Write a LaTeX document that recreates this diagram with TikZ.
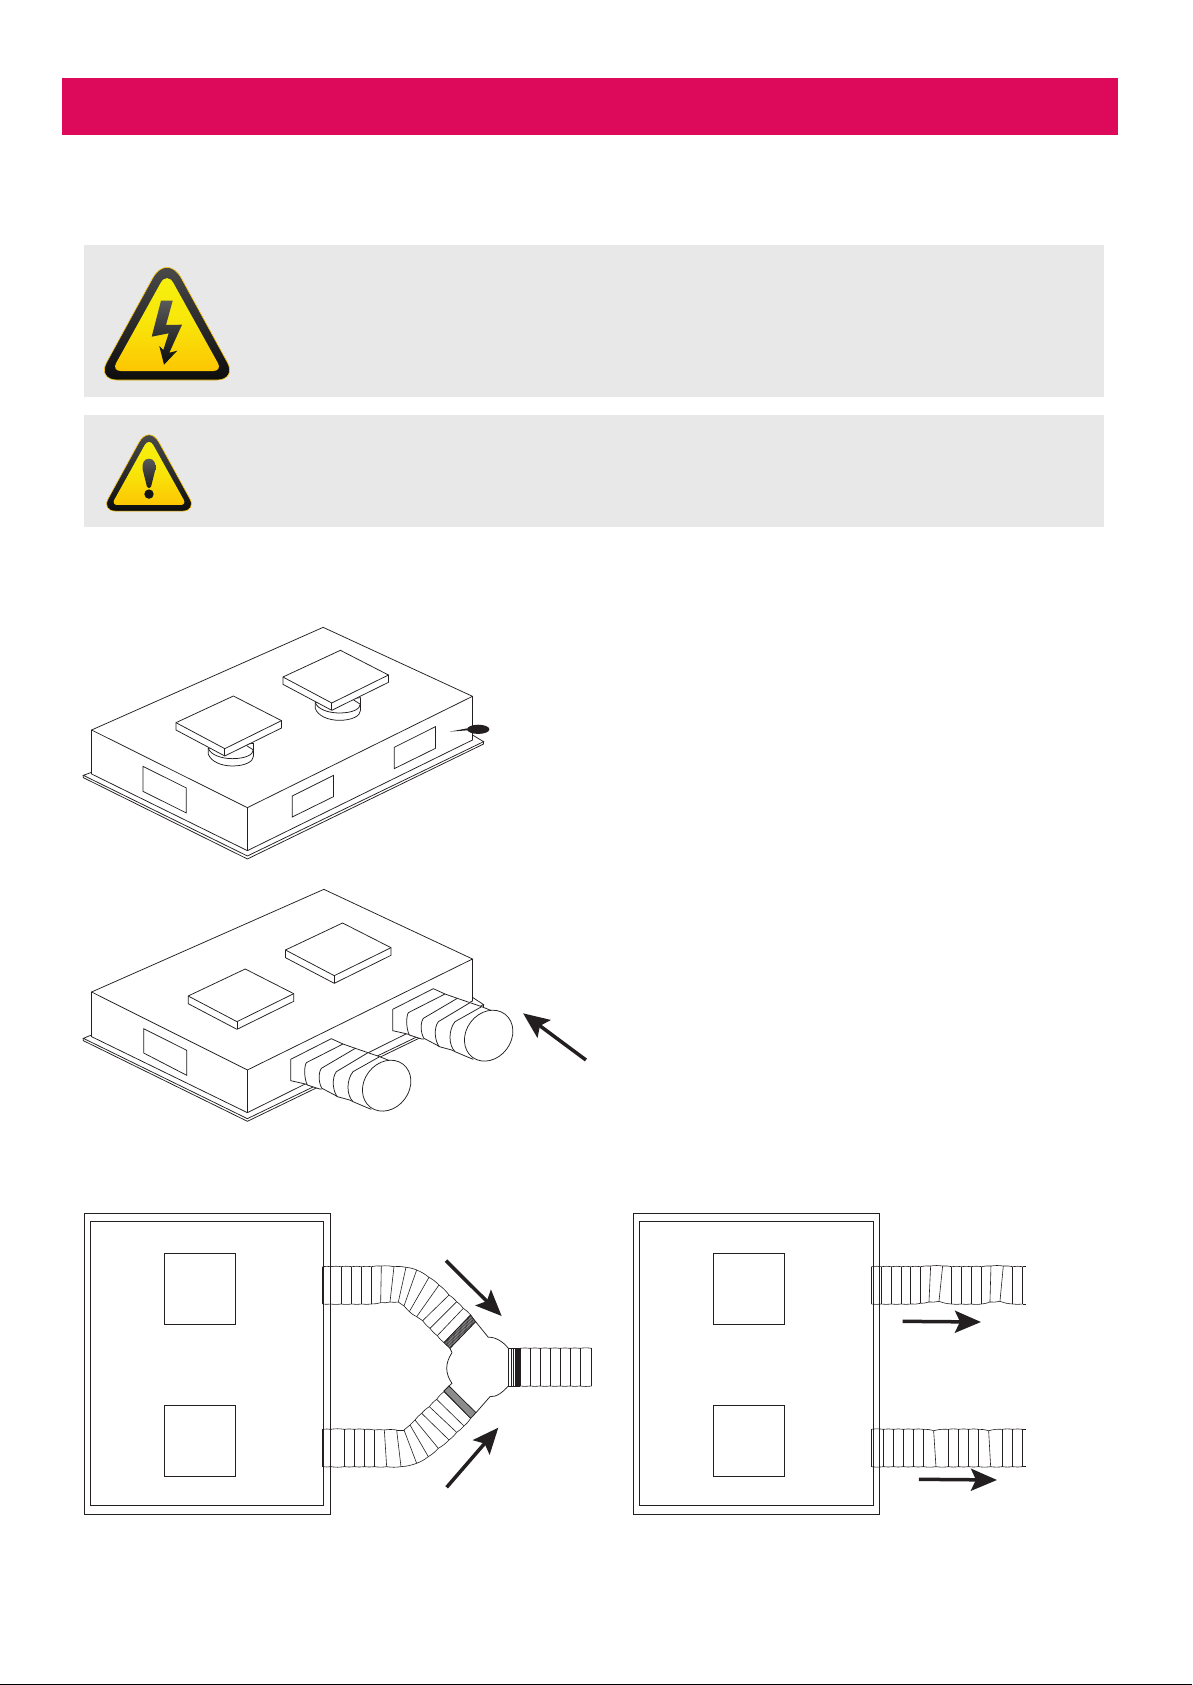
\documentclass[tikz,border=0pt]{standalone}
\usetikzlibrary{arrows.meta,calc}
\definecolor{hdr}{RGB}{221,10,92}
\definecolor{panel}{RGB}{232,232,232}
\definecolor{inka}{RGB}{35,31,32}
\definecolor{ylw}{RGB}{246,242,14}
\definecolor{ylwm}{RGB}{248,230,10}
\definecolor{ylwb}{RGB}{253,198,2}
\tikzset{
  ln/.style={draw=inka,line width=0.75pt,line join=miter},
  rb/.style={draw=inka,line width=0.6pt},
  wh/.style={ln,fill=white},
  flow/.style={draw=inka,line width=3.5pt,-{Stealth[length=26pt,width=22pt,inset=5pt]}},
}
% warning triangle: #1 shift, #2 scale, #3 base corner, #4 apex corner, #5 inner base corner, #6 inner apex corner, #7 symbol
\newcommand\warntri[7]{%
 \begin{scope}[shift={#1},x=#2pt,y=-#2pt]
  \path[shade,top color=black!68,bottom color=black!95,draw=ylwb,line width=.6pt,rounded corners=#3pt]
     (0,130) -- (-70,130) [rounded corners=#4pt] -- (0,2) [rounded corners=#3pt] -- (70,130) -- cycle;
  \path[shade,top color=ylw,bottom color=ylwb,middle color=ylwm,rounded corners=#5pt]
     (0,121) -- (-55.3,121) [rounded corners=#6pt] -- (0,21.5) [rounded corners=#5pt] -- (55.3,121) -- cycle;
  #7
 \end{scope}}
% corrugated hose: ribs given as xtop/ytop/xbottom/ybottom
\newcommand\ribs[1]{%
 \foreach \xt/\yt/\xb/\yb [count=\ci,remember=\xt as \pxt (initially 0),remember=\yt as \pyt (initially 0),remember=\xb as \pxb (initially 0),remember=\yb as \pyb (initially 0)] in {#1}{
   \draw[rb] (\xt,\yt) -- (\xb,\yb);
   \ifnum\ci>1
     \draw[rb] (\pxt,\pyt) to[bend left=8] (\xt,\yt);
     \draw[rb] (\pxb,\pyb) to[bend right=8] (\xb,\yb);
   \fi
 }}
% one collapsed ring of the hose seen in perspective
\newcommand\ring[1]{\fill[white] #1 -- cycle; \draw[ln] #1;}
% hose coming towards the viewer; #1,#2 = shift in reference pixels
\newcommand\isoduct[2]{%
 \begin{scope}[shift={(#1,#2)},x=.3333pt,y=-.3333pt]
  \ring{(195,72) -- (160,56) -- (38,118) -- (38,182) -- (82,192) -- (125,205)}
  \ring{(232,85) -- (195,72) -- (85,128) .. controls (78,140) and (78,175) .. (88,195) -- (125,207) -- (132,207)}
  \ring{(270,98) -- (232,85) -- (130,145) .. controls (120,160) and (122,190) .. (132,205) -- (170,225) -- (178,230)}
  \ring{(305,110) -- (270,98) -- (175,155) .. controls (160,175) and (165,215) .. (178,230) -- (215,240) -- (225,245)}
  \ring{(345,126) -- (305,110) -- (225,155) .. controls (205,180) and (205,225) .. (225,245) -- (265,262) -- (280,268)}
  \coordinate (cap) at (326,197);
  \draw[wh] (cap) ellipse [x radius=27pt,y radius=22.5pt,rotate=53];
 \end{scope}}
\begin{document}
\begin{tikzpicture}[x=1pt,y=-1pt]
\useasboundingbox (0,0) rectangle (1192,1685);
\fill[white] (0,0) rectangle (1192,1685);
\fill[black] (0,1683.6) rectangle (1192,1685);
% header band and panels
\fill[hdr] (62,78.5) rectangle (1118,135);
\fill[panel] (84,245) rectangle (1104,397);
\fill[panel] (84,415) rectangle (1104,527);
% warning signs
\warntri{(167,250)}{1}{20}{30}{9}{13}{
  \path[shade,top color=black!65,bottom color=black!95]
    (-6,50.7) -- (5.7,50.7) -- (-1,75) -- (15,74.7) -- (2.3,102.7) -- (10.3,100.7) -- (-3,114.7) -- (-7.7,96) -- (-3.7,100) -- (1.7,83.3) -- (-15.3,86.7) -- cycle;
}
\warntri{(149,422.7)}{.68}{14}{21}{6}{9}{
  \path[shade,top color=black!65,bottom color=black!90]
    (0,53) .. controls (-8,53) and (-10,60) .. (-9.5,68) -- (-3,94) .. controls (-2,97) and (2,97) .. (3,94) -- (9.5,68) .. controls (10,60) and (8,53) .. (0,53) -- cycle;
  \fill[black!92] (0,105) circle (4.7pt);
}
% ---------- first isometric view
\begin{scope}[shift={(60,600)},x=.359pt,y=-.3333pt]
  \draw[ln] (88,517) -- (65,526) -- (522,768) -- (1180,425) -- (1149,405);
  \draw[ln] (65,526) -- (65,533) -- (522,777) -- (1180,432) -- (1180,425);
  \draw[ln] (88,390) -- (733,82) -- (1149,289) -- (522,623) -- cycle;
  \draw[ln] (88,390) -- (88,522) -- (522,752) -- (1149,420) -- (1149,289);
  \draw[ln] (522,623) -- (522,752);
  \draw[ln] (231,499) -- (352,564) -- (352,639) -- (231,574) -- cycle;
  \draw[ln] (647,588) -- (762,526) -- (762,590) -- (647,651) -- cycle;
  \draw[ln] (931,442) -- (1046,380) -- (1046,445) -- (931,506) -- cycle;
  \foreach \dx/\dy in {0/0,298/-137}{
   \begin{scope}[shift={(\dx,\dy)}]
    \draw[wh] (413,445) -- (413,462) .. controls (420,485) and (450,498) .. (480,498) .. controls (515,498) and (539,485) .. (539,468) -- (539,430) -- cycle;
    \draw[ln] (413,445) .. controls (420,465) and (450,476) .. (480,476) .. controls (515,476) and (539,465) .. (539,448);
    \draw[ln] (520,437) -- (539,450);
   \end{scope}
  }
  \foreach \dx/\dy in {0/0,298/-137}{
   \begin{scope}[shift={(\dx,\dy)}]
    \draw[wh] (323,368) -- (323,390) -- (459,468) -- (617,384) -- (617,362) -- (483,288) -- cycle;
    \draw[ln] (323,368) -- (459,446) -- (617,362);
    \draw[ln] (459,446) -- (459,468);
   \end{scope}
  }
  \fill[inka] (1085,395) -- (1135,385) -- (1135,391) -- cycle;
  \fill[inka] (1165,388) ellipse [x radius=11.2pt,y radius=4.6pt];
\end{scope}
% ---------- second isometric view
\begin{scope}[shift={(60,870)},x=.359pt,y=-.3333pt]
  \draw[ln] (88,495) -- (65,505) -- (522,746) -- (1180,404) -- (1149,382);
  \draw[ln] (65,505) -- (65,512) -- (522,754) -- (1180,411) -- (1180,404);
  \draw[ln] (88,366) -- (735,58) -- (1149,267) -- (522,600) -- cycle;
  \draw[ln] (88,366) -- (88,500) -- (522,728) -- (1149,393) -- (1149,267);
  \draw[ln] (522,600) -- (522,728);
  \draw[ln] (233,476) -- (353,541) -- (353,616) -- (233,549) -- cycle;
  \foreach \dx/\dy in {0/0,271/-138}{
   \begin{scope}[shift={(\dx,\dy)}]
    \draw[wh] (357,378) -- (357,401) -- (493,478) -- (651,394) -- (651,371) -- (516,297) -- cycle;
    \draw[ln] (357,378) -- (493,455) -- (651,371);
    \draw[ln] (493,455) -- (493,478);
   \end{scope}
  }
\end{scope}
\isoduct{380}{970}
\isoduct{278}{1020}
\begin{scope}[shift={(60,870)},x=.359pt,y=-.3333pt]
  \coordinate (a1s) at (1465,570);
  \coordinate (a1e) at (1290,430);
  \draw[flow] (a1s) -- (a1e);
\end{scope}
% ---------- plan view, left
\begin{scope}[shift={(300,1200)},x=.3333pt,y=-.3333pt]
  \draw[ln] (-646,40) rectangle (92,943);
  \draw[ln] (-628,64) rectangle (71,916);
  \draw[ln] (-406,160) rectangle (-193,373);
  \draw[ln] (-406,616) rectangle (-193,829);
  % upper branch
  \ribs{68/200/68/312,92/200/92/312,123/200/123/312,155/200/155/312,185/200/185/312,214/200/214/312,244/198/242/308,282/200/270/306,318/202/295/306,350/210/312/318,387/232/328/335,417/255/350/350,447/285/368/362,470/305/390/385,490/325/412/407,512/345/432/428}
  \draw[line width=1.4pt,inka] (68,200) -- (68,312);
  % lower branch
  \ribs{68/688/68/800,92/688/92/800,133/688/133/800,163/688/163/800,193/688/193/800,223/690/223/800,253/690/260/800,290/690/303/800,312/690/350/790,330/675/385/770,345/660/415/745,365/640/447/720,388/620/470/697,410/598/492/678,432/575/512/655}
  \draw[line width=1.4pt,inka] (68,688) -- (68,800);
  % collars
  \fill[black!30] (512,345) -- (527,365) -- (450,445) -- (432,428) -- cycle;
  \foreach \t in {0,0.125,...,1}{
    \draw[line width=.4pt,inka] ($(512,345)!\t!(527,365)$) -- ($(432,428)!\t!(450,445)$);
  }
  \draw[ln] (512,345) -- (527,365) -- (450,445) -- (432,428) -- cycle;
  \fill[black!45] (447,558) -- (432,573) -- (512,655) -- (528,638) -- cycle;
  \draw[ln] (447,558) -- (432,573) -- (512,655) -- (528,638) -- cycle;
  % junction
  \draw[ln] (527,365) -- (565,412) .. controls (585,410) and (610,425) .. (625,445);
  \draw[ln] (528,638) -- (570,590) .. controls (590,592) and (610,575) .. (625,558);
  \draw[ln] (450,445) -- (456,458) .. controls (435,490) and (435,520) .. (456,550) -- (447,558);
  % outlet
  \ribs{625/445/625/558,635/445/635/558,641/445/641/558,648/445/648/558,654/445/654/558,660/445/660/558,690/445/690/558,720/445/720/558,750/445/750/558,780/445/780/558,810/445/810/558,840/445/840/558,875/445/875/558}
  \foreach \x in {635,641,648,654,660}{\draw[line width=1.1pt,inka] (\x,445) -- (\x,558);}
  \coordinate (a2s) at (438,182);
  \coordinate (a2e) at (605,348);
  \draw[flow] (a2s) -- (a2e);
  \coordinate (a3s) at (440,862);
  \coordinate (a3e) at (595,683);
  \draw[flow] (a3s) -- (a3e);
\end{scope}
% ---------- plan view, right
\begin{scope}[shift={(620,1200)},x=.3333pt,y=-.3333pt]
  \draw[ln] (40,40) rectangle (778,942);
  \draw[ln] (58,64) rectangle (760,916);
  \draw[ln] (280,160) rectangle (493,373);
  \draw[ln] (280,616) rectangle (493,829);
  \ribs{754/200/754/312,784/200/784/312,814/200/814/312,844/200/844/312,872/200/872/312,902/200/902/310,932/198/927/306,968/198/957/304,995/200/995/312,1024/200/1024/312,1053/200/1053/312,1085/200/1085/312,1113/198/1110/306,1150/198/1140/304,1178/200/1178/312,1208/200/1208/312}
  \draw[rb] (1208,200) -- (1218,200);
  \draw[rb] (1208,312) -- (1218,312);
  \ribs{754/688/754/800,790/688/790/800,820/688/820/800,850/688/850/800,880/688/880/800,910/688/910/800,941/692/948/800,985/688/985/800,1016/688/1016/800,1046/688/1046/800,1076/688/1076/800,1106/692/1112/800,1147/688/1147/800,1178/688/1178/800,1208/688/1208/800}
  \draw[rb] (1208,688) -- (1218,688);
  \draw[rb] (1208,800) -- (1218,800);
  \coordinate (a4s) at (848,364);
  \coordinate (a4e) at (1083,366);
  \draw[flow] (a4s) -- (a4e);
  \coordinate (a5s) at (897,838);
  \coordinate (a5e) at (1131,840);
  \draw[flow] (a5s) -- (a5e);
\end{scope}
\end{tikzpicture}
\end{document}
